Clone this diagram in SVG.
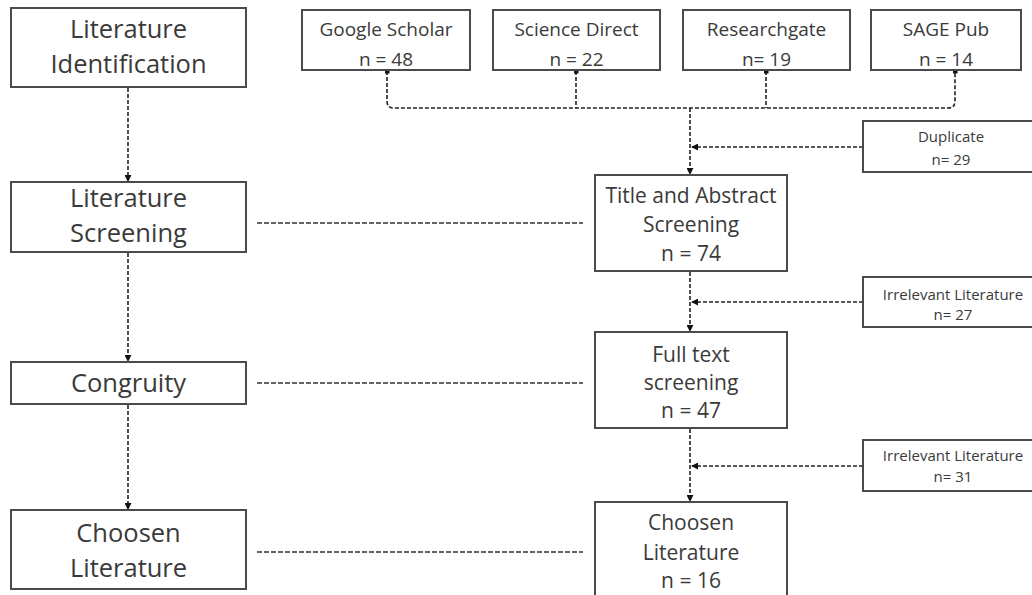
<svg xmlns="http://www.w3.org/2000/svg" width="1032" height="595" viewBox="0 0 1032 595">
<style>
.box{fill:#fff;stroke:#4a4a4a;stroke-width:2}
.t{font-family:"Open Sans","Liberation Sans",sans-serif;fill:#3a3a3a;text-anchor:middle}
.big{font-size:25.5px}
.mid{font-size:21px}
.src{font-size:19px}
.sm{font-size:15px}
.c{fill:none;stroke:#222;stroke-width:1.6;stroke-dasharray:4 2}
.h{fill:none;stroke:#333;stroke-width:1.6;stroke-dasharray:5 2}
</style>
<defs>
<marker id="ah" viewBox="0 0 8 8" refX="7" refY="4" markerWidth="7" markerHeight="7" markerUnits="userSpaceOnUse" orient="auto">
<path d="M0,0 L8,4 L0,8 z" fill="#111"/>
</marker>
<marker id="dot" viewBox="0 0 6 6" refX="3" refY="3" markerWidth="5" markerHeight="5" markerUnits="userSpaceOnUse">
<rect x="0" y="0" width="6" height="6" fill="#111"/>
</marker>
</defs>
<rect width="1032" height="595" fill="#fff"/>
<g id="connectors">
<line class="c" x1="128" y1="88" x2="128" y2="181" marker-end="url(#ah)"/>
<line class="c" x1="128" y1="253" x2="128" y2="361" marker-end="url(#ah)"/>
<line class="c" x1="128" y1="405" x2="128" y2="509" marker-end="url(#ah)"/>
<line class="h" x1="257" y1="223" x2="583" y2="223"/>
<line class="h" x1="257" y1="383" x2="583" y2="383"/>
<line class="h" x1="257" y1="552" x2="583" y2="552"/>
<path class="c" d="M387,71 V101 Q387,108 394,108 H948 Q955,108 955,101 V71" marker-start="url(#dot)" marker-end="url(#dot)"/>
<line class="c" x1="576" y1="71" x2="576" y2="108" marker-start="url(#dot)"/>
<line class="c" x1="766" y1="71" x2="766" y2="108" marker-start="url(#dot)"/>
<line class="c" x1="690" y1="108" x2="690" y2="174" marker-end="url(#ah)"/>
<line class="c" x1="863" y1="147" x2="692" y2="147" marker-end="url(#ah)"/>
<line class="c" x1="690" y1="272" x2="690" y2="331" marker-end="url(#ah)"/>
<line class="c" x1="863" y1="302" x2="692" y2="302" marker-end="url(#ah)"/>
<line class="c" x1="690" y1="429" x2="690" y2="501" marker-end="url(#ah)"/>
<line class="c" x1="863" y1="466" x2="692" y2="466" marker-end="url(#ah)"/>
</g>
<g id="lit-identification">
<rect class="box" x="11" y="8" width="235" height="79"/>
<text class="t big" x="128.5" y="38">Literature</text>
<text class="t big" x="128.5" y="73">Identification</text>
</g>
<g id="lit-screening">
<rect class="box" x="11" y="182" width="235" height="70"/>
<text class="t big" x="128.5" y="207">Literature</text>
<text class="t big" x="128.5" y="242">Screening</text>
</g>
<g id="congruity">
<rect class="box" x="11" y="362" width="235" height="42"/>
<text class="t big" x="128.5" y="392">Congruity</text>
</g>
<g id="chosen-left">
<rect class="box" x="11" y="510" width="235" height="79"/>
<text class="t big" x="128.5" y="542">Choosen</text>
<text class="t big" x="128.5" y="577">Literature</text>
</g>
<g id="google-scholar">
<rect class="box" x="302" y="10" width="168" height="60"/>
<text class="t src" x="386" y="36">Google Scholar</text>
<text class="t src" x="386" y="66">n = 48</text>
</g>
<g id="science-direct">
<rect class="box" x="493" y="10" width="167" height="60"/>
<text class="t src" x="576.5" y="36">Science Direct</text>
<text class="t src" x="576.5" y="66">n = 22</text>
</g>
<g id="researchgate">
<rect class="box" x="683" y="10" width="167" height="60"/>
<text class="t src" x="766.5" y="36">Researchgate</text>
<text class="t src" x="766.5" y="66">n= 19</text>
</g>
<g id="sage-pub">
<rect class="box" x="871" y="10" width="150" height="60"/>
<text class="t src" x="946" y="36">SAGE Pub</text>
<text class="t src" x="946" y="66">n = 14</text>
</g>
<g id="duplicate">
<rect class="box" x="863" y="121" width="170" height="51"/>
<text class="t sm" x="951" y="142">Duplicate</text>
<text class="t sm" x="951" y="165">n= 29</text>
</g>
<g id="title-abstract">
<rect class="box" x="595" y="175" width="192" height="96"/>
<text class="t mid" x="691" y="203">Title and Abstract</text>
<text class="t mid" x="691" y="232">Screening</text>
<text class="t mid" x="691" y="261">n = 74</text>
</g>
<g id="irrelevant-27">
<rect class="box" x="863" y="277" width="170" height="50"/>
<text class="t sm" x="953" y="300">Irrelevant Literature</text>
<text class="t sm" x="953" y="320">n= 27</text>
</g>
<g id="full-text">
<rect class="box" x="595" y="332" width="192" height="96"/>
<text class="t mid" x="691" y="362">Full text</text>
<text class="t mid" x="691" y="390">screening</text>
<text class="t mid" x="691" y="418">n = 47</text>
</g>
<g id="irrelevant-31">
<rect class="box" x="863" y="440" width="170" height="51"/>
<text class="t sm" x="953" y="461">Irrelevant Literature</text>
<text class="t sm" x="953" y="482">n= 31</text>
</g>
<g id="chosen-right">
<rect class="box" x="595" y="502" width="192" height="100"/>
<text class="t mid" x="691" y="530">Choosen</text>
<text class="t mid" x="691" y="560">Literature</text>
<text class="t mid" x="691" y="588">n = 16</text>
</g>
</svg>
